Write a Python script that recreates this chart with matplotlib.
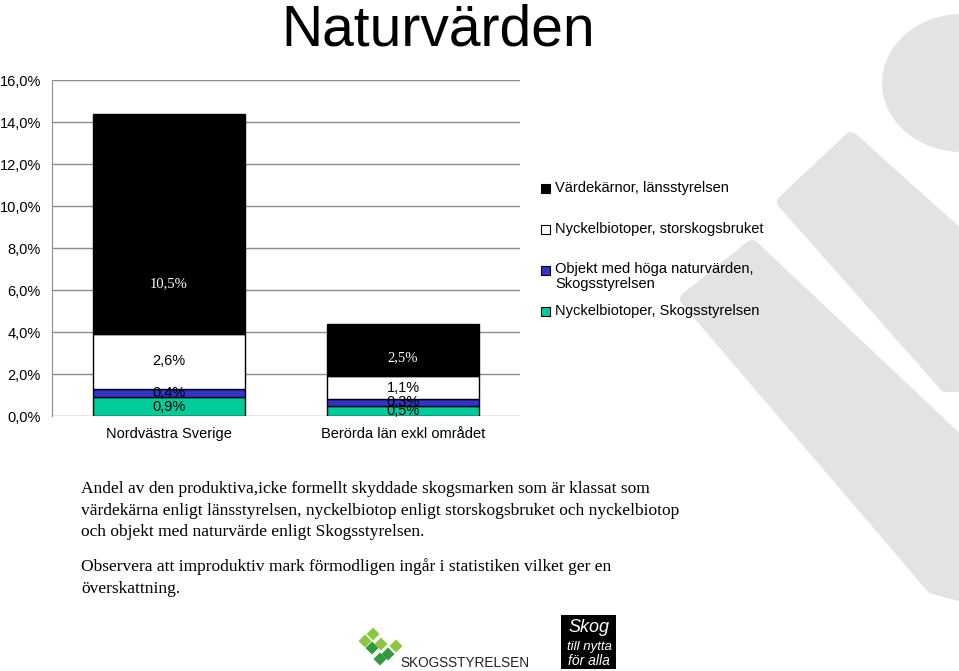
import numpy as np
import matplotlib.pyplot as plt
import matplotlib.patches as patches

# data (fractions)
categories = ['Nordvästra Sverige', 'Berörda län exkl området']
series_names = ['Nyckelbiotoper, Skogsstyrelsen',
                'Objekt med höga naturvärden,\nSkogsstyrelsen',
                'Nyckelbiotoper, storskogsbruket',
                'Värdekärnor, länsstyrelsen']
nyckel_sks = [0.009, 0.005]
objekt_sks = [0.004, 0.003]
nyckel_stor = [0.026, 0.011]
vardekarnor = [0.105, 0.025]
# where the labels of the black segments sit (Excel puts them off-centre)
vardekarnor_label_y = [0.063, 0.028]
yticks = [0.0, 0.02, 0.04, 0.06, 0.08, 0.10, 0.12, 0.14, 0.16]

colors = ['#00cc99', '#3333cc', '#ffffff', '#000000']
label_colors = ['black', 'black', 'black', 'white']

note_lines = ['Andel av den produktiva,icke formellt skyddade skogsmarken som är klassat som',
              'värdekärna enligt länsstyrelsen, nyckelbiotop enligt storskogsbruket och nyckelbiotop',
              'och objekt med naturvärde enligt Skogsstyrelsen.',
              'Observera att improduktiv mark förmodligen ingår i statistiken vilket ger en',
              'överskattning.']

W, H = 959, 671
fig = plt.figure(figsize=(W / 100, H / 100), dpi=100)

# full-figure overlay in pixel coordinates for decoration / text
bg = fig.add_axes([0, 0, 1, 1])
bg.set_xlim(0, W)
bg.set_ylim(H, 0)
bg.axis('off')

gray = '#e3e3e3'
bg.add_patch(patches.Ellipse((962, 83), 160, 138, color=gray, lw=0))
band1 = [(851, 139), (959, 236), (959, 385), (946, 385), (784, 202)]
band2 = [(752, 247), (959, 442), (959, 594), (933, 587), (687, 299)]
for b in (band1, band2):
    bg.add_patch(patches.Polygon(b, closed=True, facecolor=gray, edgecolor=gray,
                                 lw=10, joinstyle='round'))

bg.text(438, 46, 'Naturvärden', fontsize=41, family='Liberation Sans',
        ha='center', va='baseline')

# legend, drawn by hand so the two-line entry keeps its square on the first line
leg_y = [188, 229, 270, 311]
leg_order = [3, 2, 1, 0]
for yy, k in zip(leg_y, leg_order):
    bg.add_patch(patches.Rectangle((541, yy - 4.5), 9, 9, facecolor=colors[k],
                                   edgecolor='black', lw=0.8))
    if '\n' in series_names[k]:
        bg.text(555, yy - 8, series_names[k], fontsize=10.5, family='Liberation Sans',
                va='top', linespacing=1.05)
    else:
        bg.text(555, yy, series_names[k], fontsize=10.5, family='Liberation Sans',
                va='center')

note_y = [493, 515, 536, 571, 593]
for yy, line in zip(note_y, note_lines):
    bg.text(81, yy, line, fontsize=12.5, family='Liberation Serif', va='baseline')

# logos at the bottom, roughly
lg = '#8cc63f'
dg = '#2f9a3c'
for (cx, cy, c) in [(373, 634, lg), (381, 644, lg), (372, 648, dg), (388, 654, dg),
                    (380, 659, dg), (396, 646, lg), (365, 641, lg)]:
    bg.add_patch(patches.RegularPolygon((cx, cy), 4, radius=6.5, color=c, lw=0))
bg.text(400, 667, 'SKOGSSTYRELSEN', fontsize=9.8, family='Liberation Sans',
        va='baseline', color='#222222')
bg.add_patch(patches.Rectangle((561, 615), 55, 54, color='black', lw=0))
bg.text(589, 632, 'Skog', fontsize=13, style='italic', color='white',
        family='Liberation Sans', ha='center', va='baseline')
bg.text(589, 650, 'till nytta', fontsize=9.5, style='italic', color='white',
        family='Liberation Sans', ha='center', va='baseline')
bg.text(589, 665, 'för alla', fontsize=10, style='italic', color='white',
        family='Liberation Sans', ha='center', va='baseline')

# the chart itself
ax = fig.add_axes([52 / W, 1 - 416 / H, 468 / W, 336 / H])
ax.set_facecolor('none')
x = np.arange(len(categories))
series = [nyckel_sks, objekt_sks, nyckel_stor, vardekarnor]
bottom = np.zeros(len(categories))
for k, vals in enumerate(series):
    vals = np.array(vals)
    ax.bar(x, vals, 0.65, bottom=bottom, color=colors[k], edgecolor='black',
           lw=1, zorder=3)
    for i in range(len(categories)):
        if k == 3:
            ly = vardekarnor_label_y[i]
            fam = 'Liberation Serif'
        else:
            ly = bottom[i] + vals[i] / 2
            fam = 'Liberation Sans'
        ax.text(x[i], ly, f'{vals[i] * 100:.1f}%'.replace('.', ','),
                ha='center', va='center', fontsize=10.5, family=fam,
                color=label_colors[k], zorder=4)
    bottom += vals

ax.set_xlim(-0.5, 1.5)
ax.set_ylim(0, 0.16)
ax.set_yticks(yticks)
ax.set_yticklabels([f'{v * 100:.1f}%'.replace('.', ',') for v in yticks],
                   fontsize=10.5, family='Liberation Sans')
ax.set_xticks(x)
ax.set_xticklabels(categories, fontsize=10.5, family='Liberation Sans')
ax.tick_params(axis='both', length=0)
ax.tick_params(axis='y', pad=8)
ax.tick_params(axis='x', pad=8)
ax.grid(axis='y', color='#8c8c8c', lw=1, zorder=0)
for s in ['top', 'right', 'bottom']:
    ax.spines[s].set_visible(False)
ax.spines['left'].set_color('#8c8c8c')

fig.savefig('out.png', dpi=100)
